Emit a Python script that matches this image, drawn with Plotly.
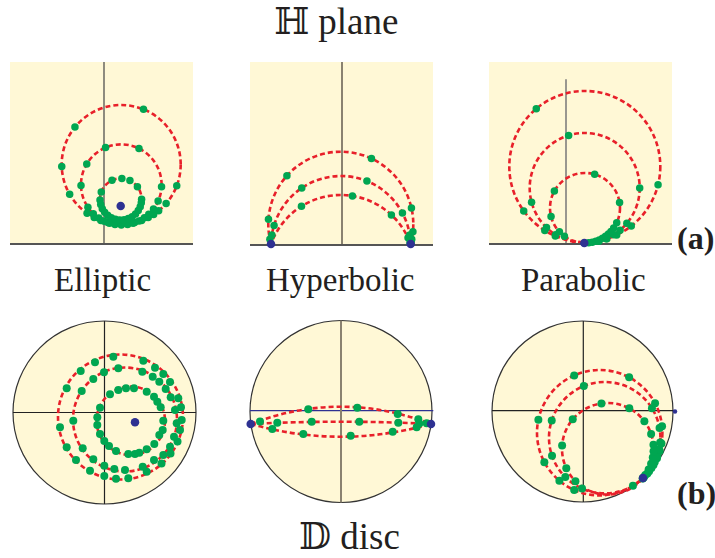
import numpy as np
import plotly.graph_objects as go

W, H = 715, 558
S = 100.0  # pixels per data unit (same in every panel)

YELLOW = "#FFF8D6"
RED = "#E8202A"
GREEN = "#00A651"
BLUE = "#2E3192"
SERIF = "Liberation Serif, Times New Roman, DejaVu Serif, serif"

# ------------------------------------------------------------------ data
# (a) upper half plane H -- elliptic: three hyperbolic circles about a fixed point
he_cx = [0.172, 0.173, 0.168]
he_cy = [0.785, 0.583, 0.438]
he_r = [0.595, 0.403, 0.208]
he_dot_deg = [
    [68, 141, 182, 210, 235, 243, 250, 257, 264, 270, 276, 283, 290, 297, 303, 309, 319, 339],
    [64, 113, 149, 181, 214, 226, 236, 245, 253, 261, 270, 279, 287, 296, 305, 313, 323, 336, 357],
    [0, 37, 64, 87, 115, 160, 182, 195, 207, 219, 231, 243, 255, 267, 279, 291, 303, 315, 327, 339, 350],
]
he_fixed_x = [0.167]
he_fixed_y = [0.37]

# (a) hyperbolic: hypercycles through two boundary fixed points
hh_cx = [-0.012, -0.012, -0.012]
hh_cy = [0.198, -0.018, -0.252]
hh_r = [0.725, 0.698, 0.742]
hh_dot_deg = [
    [-14, -12, -6, 13, 65, 138, 176, 192],
    [2, 9, 28, 68, 124, 163, 171],
    [21, 25, 47, 81, 122],
]
hh_fixed_x = [-0.71, 0.687]
hh_fixed_y = [0.0, 0.0]

# (a) parabolic: horocycles tangent at one boundary point
hp_cx = [0.188, 0.187, 0.19]
hp_cy = [0.765, 0.55, 0.35]
hp_r = [0.755, 0.55, 0.35]
hp_dot_deg = [
    [130, 216, 238, 247, 287, 295, 308, 346],
    [0, 107, 195, 226, 238, 285, 293, 302, 310, 320],
    [9, 74, 151, 194, 223, 234, 276, 282, 288, 294, 300, 306, 312, 318, 325, 335],
]
hp_fixed_x = [0.183]
hp_fixed_y = [0.0]

# (b) Poincare disc D -- elliptic
d_radius = [0.915, 0.91, 0.905]
de_cx = [0.16, 0.205, 0.263]
de_cy = [-0.045, -0.07, -0.083]
de_r = [0.625, 0.52, 0.342]
de_dots_x = [
    [0.088, -0.095, -0.238, -0.378, -0.445, -0.378, -0.285, -0.145, -0.002, 0.115, 0.238, 0.422,
     0.57, 0.66, 0.73, 0.755, 0.772, 0.765, 0.738, 0.655, 0.588, 0.505, 0.388],
    [0.138, -0.005, -0.112, -0.228, -0.312, -0.218, -0.112, -0.002, 0.098, 0.205, 0.382, 0.495,
     0.588, 0.655, 0.695, 0.722, 0.705, 0.662, 0.612, 0.548, 0.482, 0.378],
    [-0.045, -0.072, -0.072, -0.045, -0.002, 0.045, 0.115, 0.238, 0.305, 0.348, 0.422, 0.498,
     0.548, 0.582, 0.588, 0.562, 0.528, 0.495, 0.422, 0.295, 0.215, 0.138, 0.055],
]
de_dots_y = [
    [0.558, 0.502, 0.415, 0.242, -0.148, -0.348, -0.475, -0.582, -0.635, -0.662, -0.658, -0.592,
     -0.51, -0.41, -0.29, -0.175, -0.075, 0.052, 0.142, 0.305, 0.385, 0.448, 0.518],
    [0.442, 0.402, 0.335, 0.215, -0.082, -0.358, -0.468, -0.532, -0.565, -0.575, -0.542, -0.475,
     -0.425, -0.342, -0.242, -0.108, 0.025, 0.152, 0.235, 0.308, 0.358, 0.408],
    [0.048, -0.048, -0.125, -0.215, -0.285, -0.335, -0.385, -0.415, -0.415, -0.402, -0.368, -0.315,
     -0.225, -0.175, -0.082, 0.052, 0.108, 0.158, 0.208, 0.242, 0.242, 0.225, 0.182],
]
de_fixed_x = [0.305]
de_fixed_y = [-0.098]

# (b) hyperbolic: arcs through two boundary fixed points (end points, mid heights)
dh_end_x = [-0.903, 0.90]
dh_end_y = -0.125
dh_mid_y = [0.048, -0.102, -0.252]
dh_dots_x = [
    [-0.81, -0.327, 0.163, 0.567, 0.773],
    [-0.637, -0.293, 0.183, 0.573, 0.783, 0.857],
    [-0.687, -0.377, 0.097, 0.517, 0.757],
]
dh_dots_y = [
    [-0.10, 0.022, 0.038, -0.025, -0.078],
    [-0.112, -0.102, -0.102, -0.112, -0.12, -0.118],
    [-0.175, -0.225, -0.242, -0.202, -0.158],
]
dh_fixed_x = [-0.903, 0.90]
dh_fixed_y = [-0.125, -0.125]

# (b) parabolic: horocycles tangent to the boundary circle
dp_cx = [0.172, 0.222, 0.253]
dp_cy = [-0.212, -0.262, -0.373]
dp_r = [0.627, 0.557, 0.458]
dp_dot_deg = [
    [6, 28, 62, 114, 168, 208, 230, 246, 302, 315, 322, 329, 336, 343, 350],
    [10, 32, 112, 162, 199, 225, 246, 313, 320, 327, 334, 341, 348, 355],
    [5, 19, 37, 62, 98, 140, 176, 205, 225, 320, 325, 333, 341, 349, 357],
]
dp_fixed_x = [0.605]
dp_fixed_y = [-0.665]
dp_end_x = [0.925]
dp_end_y = [0.0]

panel_titles = ["Elliptic", "Hyperbolic", "Parabolic"]

# ------------------------------------------------------------------ layout of panels
# origin pixel (where data 0,0 sits), x range, y range
panels = {
    1: ((104, 243), (-0.94, 0.89), (0.0, 1.81)),
    2: ((342, 244), (-0.92, 0.91), (0.0, 1.82)),
    3: ((566, 243), (-0.77, 1.06), (0.0, 1.81)),
    4: ((104.5, 412.5), (-0.96, 0.96), (-0.96, 0.96)),
    5: ((341, 411.5), (-0.96, 0.96), (-0.96, 0.96)),
    6: ((582.5, 411.5), (-0.96, 0.96), (-0.96, 0.96)),
}

fig = go.Figure()
shapes = []


def refs(i):
    return ("x" if i == 1 else f"x{i}", "y" if i == 1 else f"y{i}")


def dots(i, xs, ys, color=GREEN, size=7.5):
    xa, ya = refs(i)
    fig.add_trace(go.Scatter(
        x=list(xs), y=list(ys), mode="markers", xaxis=xa, yaxis=ya,
        marker=dict(color=color, size=size, line=dict(width=0)),
        cliponaxis=False, hoverinfo="skip", showlegend=False))


def circle(i, cx, cy, r, **kw):
    xa, ya = refs(i)
    shapes.append(dict(type="circle", xref=xa, yref=ya, x0=cx - r, x1=cx + r,
                       y0=cy - r, y1=cy + r, layer="below", **kw))


def seg(i, x0, y0, x1, y1, color, width):
    xa, ya = refs(i)
    shapes.append(dict(type="line", xref=xa, yref=ya, x0=x0, y0=y0, x1=x1, y1=y1,
                       layer="below", line=dict(color=color, width=width)))


def on_circle(cx, cy, r, deg):
    t = np.radians(deg)
    return cx + r * np.cos(t), cy + r * np.sin(t)


DASH = dict(color=RED, width=2.6, dash="5px,3px")
NOFILL = "rgba(0,0,0,0)"

# yellow backgrounds for the half-plane panels
for i in (1, 2, 3):
    xa, ya = refs(i)
    (_, xr, yr) = panels[i]
    shapes.append(dict(type="rect", xref=xa, yref=ya, x0=xr[0], x1=xr[1], y0=yr[0], y1=yr[1],
                       layer="below", fillcolor=YELLOW, line=dict(width=0)))

# imaginary axes
seg(1, 0, 0, 0, 1.81, "#444444", 1.2)
seg(2, 0, 0, 0, 1.82, "#8a8270", 2)
seg(3, 0, 0, 0, 1.637, "#777777", 1.5)

# discs
for i, R in zip((4, 5, 6), d_radius):
    circle(i, 0, 0, R, fillcolor=YELLOW, line=dict(color="#333333", width=1.2))
seg(4, -d_radius[0], 0, d_radius[0], 0, "#222222", 1.2)
seg(4, 0, -d_radius[0], 0, d_radius[0], "#222222", 1.2)
seg(5, -d_radius[1], 0.008, 0.923, 0.008, BLUE, 1.2)
seg(5, 0, -d_radius[1], 0, d_radius[1], "#8a8270", 2)
seg(6, -d_radius[2], 0.008, dp_end_x[0], 0.008, "#222222", 1.2)
seg(6, 0.008, -d_radius[2], 0.008, d_radius[2], "#222222", 1.2)

# ---- panel 1: H elliptic
for cx, cy, r in zip(he_cx, he_cy, he_r):
    circle(1, cx, cy, r, line=DASH, fillcolor=NOFILL)
for cx, cy, r, deg in zip(he_cx, he_cy, he_r, he_dot_deg):
    dots(1, *on_circle(cx, cy, r, deg))
dots(1, he_fixed_x, he_fixed_y, BLUE, 8.5)

# ---- panel 2: H hyperbolic
for cx, cy, r in zip(hh_cx, hh_cy, hh_r):
    circle(2, cx, cy, r, line=DASH, fillcolor=NOFILL)
for cx, cy, r, deg in zip(hh_cx, hh_cy, hh_r, hh_dot_deg):
    dots(2, *on_circle(cx, cy, r, deg))
dots(2, hh_fixed_x, hh_fixed_y, BLUE, 8.5)

# ---- panel 3: H parabolic
for cx, cy, r in zip(hp_cx, hp_cy, hp_r):
    circle(3, cx, cy, r, line=DASH, fillcolor=NOFILL)
for cx, cy, r, deg in zip(hp_cx, hp_cy, hp_r, hp_dot_deg):
    dots(3, *on_circle(cx, cy, r, deg))
dots(3, hp_fixed_x, hp_fixed_y, BLUE, 8.5)

# ---- panel 4: D elliptic
for cx, cy, r in zip(de_cx, de_cy, de_r):
    circle(4, cx, cy, r, line=DASH, fillcolor=NOFILL)
for xs, ys in zip(de_dots_x, de_dots_y):
    dots(4, xs, ys, GREEN, 8)
dots(4, de_fixed_x, de_fixed_y, BLUE, 8.5)

# ---- panel 5: D hyperbolic (arcs between the two fixed points)
xa5, ya5 = refs(5)
mx = (dh_end_x[0] + dh_end_x[1]) / 2
for my in dh_mid_y:
    ctrl_y = 2 * my - dh_end_y
    shapes.append(dict(
        type="path", xref=xa5, yref=ya5, layer="below", line=DASH,
        path=f"M {dh_end_x[0]},{dh_end_y} Q {mx},{ctrl_y} {dh_end_x[1]},{dh_end_y}"))
for xs, ys in zip(dh_dots_x, dh_dots_y):
    dots(5, xs, ys, GREEN, 8)
dots(5, dh_fixed_x, dh_fixed_y, BLUE, 8.5)

# ---- panel 6: D parabolic
for cx, cy, r in zip(dp_cx, dp_cy, dp_r):
    circle(6, cx, cy, r, line=DASH, fillcolor=NOFILL)
for cx, cy, r, deg in zip(dp_cx, dp_cy, dp_r, dp_dot_deg):
    dots(6, *on_circle(cx, cy, r, deg), GREEN, 8)
dots(6, dp_fixed_x, dp_fixed_y, BLUE, 8.5)
dots(6, dp_end_x, dp_end_y, BLUE, 4.5)

# ------------------------------------------------------------------ axes
layout = {}
for i, ((ox, oy), xr, yr) in panels.items():
    xname = "xaxis" if i == 1 else f"xaxis{i}"
    yname = "yaxis" if i == 1 else f"yaxis{i}"
    xa, ya = refs(i)
    dx = [(ox + xr[0] * S) / W, (ox + xr[1] * S) / W]
    dy = [1 - (oy - yr[0] * S) / H, 1 - (oy - yr[1] * S) / H]
    half_plane = i <= 3
    layout[xname] = dict(domain=dx, range=list(xr), anchor=ya, fixedrange=True,
                         visible=half_plane, showgrid=False, zeroline=False,
                         showticklabels=False, ticks="", showline=half_plane,
                         linecolor="#555555", linewidth=2, layer="below traces")
    layout[yname] = dict(domain=dy, range=list(yr), anchor=xa, fixedrange=True,
                         visible=False, showgrid=False, zeroline=False)

ann = []


def label(text, px, py, size, bold=False, yanchor="middle"):
    ann.append(dict(text=f"<b>{text}</b>" if bold else text, xref="paper", yref="paper",
                    x=px / W, y=1 - py / H, xanchor="center", yanchor=yanchor,
                    showarrow=False, borderpad=0,
                    font=dict(family=SERIF, size=size, color="#231F20")))


label("ℍ plane", 336, 0, 37, yanchor="top")
label("𝔻 disc", 349, 558, 37, yanchor="bottom")
for t, px in zip(panel_titles, [102.5, 339.5, 583]):
    label(t, px, 280, 33)
label("(a)", 695, 238, 32, bold=True)
label("(b)", 696, 493, 32, bold=True)

fig.update_layout(
    width=W, height=H, margin=dict(l=0, r=0, t=0, b=0),
    paper_bgcolor="white", plot_bgcolor="rgba(0,0,0,0)",
    showlegend=False, shapes=shapes, annotations=ann, **layout)

fig.write_html("out.html", config={"displayModeBar": False},
               post_script="document.body.style.margin='0px';")
